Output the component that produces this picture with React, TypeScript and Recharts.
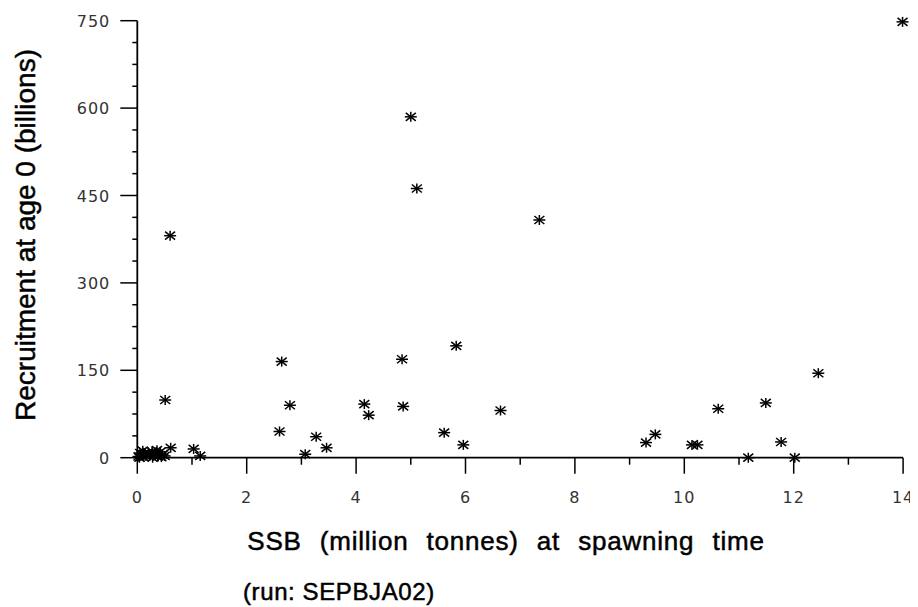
import React from 'react';
import { ScatterChart, Scatter, XAxis, YAxis } from 'recharts';

// SSB (million tonnes) at spawning time
const ssb = [
  0.02, 0.05, 0.08, 0.1, 0.13, 0.16, 0.2, 0.23, 0.27, 0.3, 0.34, 0.38, 0.42, 0.46, 0.5, 0.04, 0.12, 0.28, 0.36, 0.44,
  0.51, 0.6, 0.61, 1.03, 1.15,
  2.6, 2.64, 2.79, 3.07, 3.27, 3.46,
  4.15, 4.23, 4.84, 4.86,
  5.0, 5.11, 5.61, 5.83, 5.96,
  6.64, 7.35,
  9.3, 9.47, 10.14, 10.24, 10.62, 11.17, 11.49, 11.77, 12.02, 12.45, 13.99,
];
// Recruitment at age 0 (billions)
const recruitment = [
  2, 8, 4, 12, 6, 3, 9, 5, 11, 4, 7, 2, 10, 5, 3, 0, 1, 0, 13, 1,
  99, 381, 17, 15, 3,
  45, 165, 90, 6, 36, 17,
  92, 73, 169, 88,
  585, 462, 43, 192, 22,
  81, 408,
  26, 40, 22, 22, 84, 0, 94, 27, 0, 145, 748,
];

const xTicks = [0, 1, 2, 3, 4, 5, 6, 7, 8, 9, 10, 11, 12, 13, 14];
const xLabelTicks = [0, 2, 4, 6, 8, 10, 12, 14];
const yTicks = [0, 37.5, 75, 112.5, 150, 187.5, 225, 262.5, 300, 337.5, 375, 412.5, 450, 487.5, 525, 562.5, 600, 637.5, 675, 712.5, 750];
const yLabelTicks = [0, 150, 300, 450, 600, 750];

const xTitle = 'SSB (million tonnes) at spawning time';
const yTitle = 'Recruitment at age 0 (billions)';
const runNote = '(run: SEPBJA02)';

const data = ssb.map((x, i) => ({ x, y: recruitment[i] }));

const tickFont = { fontFamily: '"DejaVu Sans", sans-serif', fontSize: 16, fill: '#333', letterSpacing: 1 };
const titleFont = { fontFamily: '"Liberation Sans", Arial, sans-serif', fill: '#000', stroke: '#000', strokeWidth: 0.5 };

const Asterisk = (props: any) => {
  const { cx, cy } = props;
  if (cx == null || cy == null) return null;
  return (
    <g stroke="#000" strokeWidth={1.5}>
      <line x1={cx - 6} y1={cy} x2={cx + 6} y2={cy} />
      <line x1={cx} y1={cy - 5} x2={cx} y2={cy + 5} />
      <line x1={cx - 5} y1={cy - 4} x2={cx + 5} y2={cy + 4} />
      <line x1={cx - 5} y1={cy + 4} x2={cx + 5} y2={cy - 4} />
    </g>
  );
};

const XTick = (props: any) => {
  const { x, y, payload } = props;
  const v = payload.value;
  const major = xLabelTicks.includes(v);
  return (
    <g>
      <line x1={x} y1={y} x2={x} y2={y + (major ? 16 : 7)} stroke="#000" strokeWidth={1.5} />
      {major && (
        <text x={x} y={y + 45} textAnchor="middle" {...tickFont}>
          {v}
        </text>
      )}
    </g>
  );
};

const YTick = (props: any) => {
  const { x, y, payload } = props;
  const v = payload.value;
  const major = yLabelTicks.includes(v);
  return (
    <g>
      <line x1={x} y1={y} x2={x - (major ? 17 : 5)} y2={y} stroke="#000" strokeWidth={1.5} />
      {major && (
        <text x={x - 27} y={y + 6} textAnchor="end" {...tickFont}>
          {v}
        </text>
      )}
    </g>
  );
};

const XTitle = () => (
  <g>
    <text x={498} y={542} textAnchor="middle" fontSize={26} wordSpacing={10} letterSpacing={0.8} {...titleFont}>
      {xTitle}
    </text>
    <text x={235} y={592} textAnchor="start" fontSize={24} letterSpacing={0.6} {...titleFont}>
      {runNote}
    </text>
  </g>
);

const YTitle = () => (
  <text
    x={27}
    y={227}
    textAnchor="middle"
    fontSize={28}
    transform="rotate(-90, 27, 227)"
    {...titleFont}
  >
    {yTitle}
  </text>
);

export default function App() {
  return (
    <ScatterChart
      width={910}
      height={599}
      margin={{ top: 12.7, right: 14.9, left: 0, bottom: 119.3 }}
    >
      <XAxis
        type="number"
        dataKey="x"
        domain={[0, 14]}
        ticks={xTicks}
        interval={0}
        tickSize={0}
        tickMargin={0}
        tick={<XTick />}
        axisLine={{ stroke: '#000', strokeWidth: 1.8 }}
        height={30}
        label={<XTitle />}
      />
      <YAxis
        type="number"
        dataKey="y"
        domain={[0, 750]}
        ticks={yTicks}
        interval={0}
        tickSize={0}
        tickMargin={0}
        tick={<YTick />}
        axisLine={{ stroke: '#000', strokeWidth: 1.8 }}
        width={129.3}
        label={<YTitle />}
      />
      <Scatter data={data} shape={<Asterisk />} isAnimationActive={false} />
    </ScatterChart>
  );
}
